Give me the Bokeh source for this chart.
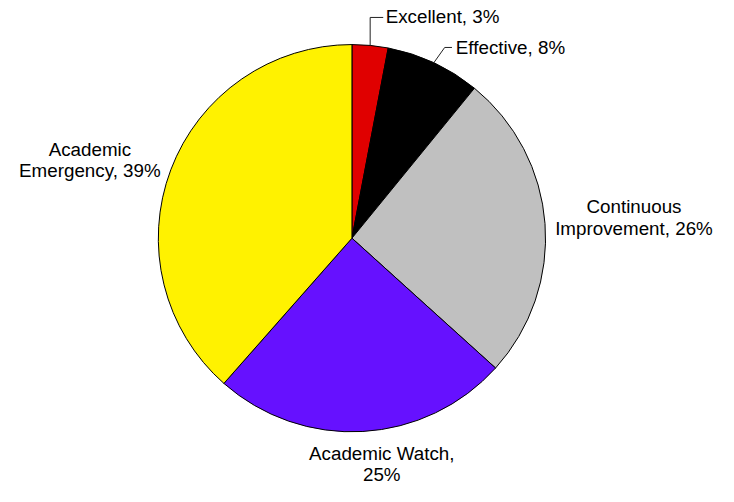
import math
from bokeh.plotting import figure
from bokeh.models import Range1d, ColumnDataSource
from bokeh.core.properties import value
from bokeh.embed import file_html
from bokeh.resources import INLINE

# ---- data ----
categories = ["Excellent", "Effective", "Continuous Improvement", "Academic Watch", "Academic Emergency"]
values = [3.0, 7.9, 25.8, 24.8, 38.5]
pct_labels = ["3%", "8%", "26%", "25%", "39%"]
colors = ["#E00000", "#000000", "#C0C0C0", "#6611FF", "#FFF200"]
label_lines = [
    ["Excellent, 3%"],
    ["Effective, 8%"],
    ["Continuous", "Improvement, 26%"],
    ["Academic Watch,", "25%"],
    ["Academic", "Emergency, 39%"],
]

# ---- layout: work in reference-image coordinates (734 x 502), scaled uniformly ----
W, H = 718, 486
REF_W, REF_H = 734, 502
s = H / REF_H
span_x = W / s
pad = (span_x - REF_W) / 2
TEXT_SHIFT = 7  # correction for where the renderer puts the text baseline


def X(ix):
    return ix


def Y(iy):
    return REF_H - iy


cx, cy, R = X(359.2), Y(245.5), 200

total = sum(values)
starts, ends, mids = [], [], []
acc = 0.0
for v in values:
    a0 = math.pi / 2 - 2 * math.pi * acc / total
    acc += v
    a1 = math.pi / 2 - 2 * math.pi * acc / total
    starts.append(a0)
    ends.append(a1)
    mids.append((a0 + a1) / 2)

src = ColumnDataSource(dict(cat=categories, start=starts, end=ends, color=colors))

p = figure(width=W, height=H, x_range=Range1d(-pad, REF_W + pad), y_range=Range1d(0, REF_H),
           x_axis_type=None, y_axis_type=None, toolbar_location=None,
           output_backend="svg", min_border=0)
p.outline_line_color = None
p.background_fill_color = "white"
p.border_fill_color = "white"

p.wedge(x=cx, y=cy, radius=R, start_angle="start", end_angle="end",
        direction="clock", fill_color="color", line_color="black",
        line_width=1, source=src)

# leader lines for the two small slices
def edge_point(i):
    return cx + R * math.cos(mids[i]), cy + R * math.sin(mids[i])

ex, ey = edge_point(0)
p.line([ex, ex, X(391.5)], [ey, Y(17.5), Y(17.5)], line_color="#222222", line_width=1)
fx, fy = edge_point(1)
p.line([fx, X(455), X(462.5)], [fy, Y(48.5), Y(48.5)], line_color="#222222", line_width=1)

font = value("Liberation Sans")
fs = "%.1fpx" % (19.4 * s)

# left-aligned labels (with leaders)
left_pos = {0: (394, [24]), 1: (466.5, [56])}
# centered labels
center_pos = {2: (650.5, [220, 242.5]), 3: (390, [475, 496.5]), 4: (88.5, [160.5, 183])}

lx, ly, lt = [], [], []
for i, (x0, ys) in left_pos.items():
    for line, yy in zip(label_lines[i], ys):
        lx.append(X(x0)); ly.append(Y(yy - TEXT_SHIFT)); lt.append(line)
p.text(x=lx, y=ly, text=lt, text_font=font, text_font_size=fs,
       text_align="left", text_baseline="alphabetic", text_color="black")

cxs, cys, cts = [], [], []
for i, (x0, ys) in center_pos.items():
    for line, yy in zip(label_lines[i], ys):
        cxs.append(X(x0)); cys.append(Y(yy - TEXT_SHIFT)); cts.append(line)
p.text(x=cxs, y=cys, text=cts, text_font=font, text_font_size=fs,
       text_align="center", text_baseline="alphabetic", text_color="black")

open("out.html", "w").write(file_html(p, INLINE))
